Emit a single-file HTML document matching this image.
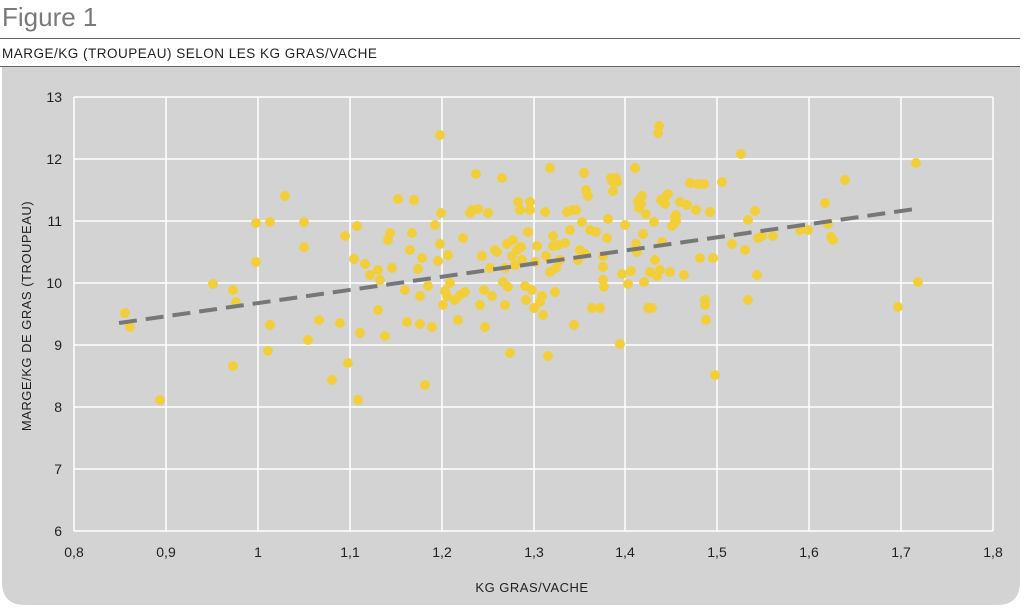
<!DOCTYPE html>
<html><head><meta charset="utf-8"><style>
body{margin:0;background:#fff;width:1024px;height:608px;overflow:hidden;font-family:"Liberation Sans",sans-serif;}
</style></head><body>
<svg width="1024" height="608" xmlns="http://www.w3.org/2000/svg">
<text x="2" y="26" font-family="Liberation Sans, sans-serif" font-size="26" fill="#7a7a7a">Figure 1</text>
<line x1="0" y1="38.5" x2="1020" y2="38.5" stroke="#666" stroke-width="1"/>
<text x="2" y="58" font-family="Liberation Sans, sans-serif" font-size="13.5" fill="#222" letter-spacing="0.5">MARGE/KG (TROUPEAU) SELON LES KG GRAS/VACHE</text>
<line x1="0" y1="66.5" x2="1020" y2="66.5" stroke="#666" stroke-width="1"/>
<path d="M2,67 H1020 V582 Q1020,605 997,605 H25 Q2,605 2,582 Z" fill="#d3d3d3"/>
<g stroke="#fff" stroke-width="1.5">
<line x1="74" y1="97" x2="993" y2="97"/><line x1="74" y1="159" x2="993" y2="159"/><line x1="74" y1="221" x2="993" y2="221"/><line x1="74" y1="283" x2="993" y2="283"/><line x1="74" y1="345" x2="993" y2="345"/><line x1="74" y1="407" x2="993" y2="407"/><line x1="74" y1="469" x2="993" y2="469"/><line x1="74" y1="531" x2="993" y2="531"/>
<line x1="74" y1="97" x2="74" y2="531"/><line x1="166" y1="97" x2="166" y2="531"/><line x1="258" y1="97" x2="258" y2="531"/><line x1="350" y1="97" x2="350" y2="531"/><line x1="442" y1="97" x2="442" y2="531"/><line x1="534" y1="97" x2="534" y2="531"/><line x1="625" y1="97" x2="625" y2="531"/><line x1="717" y1="97" x2="717" y2="531"/><line x1="809" y1="97" x2="809" y2="531"/><line x1="901" y1="97" x2="901" y2="531"/><line x1="993" y1="97" x2="993" y2="531"/>
</g>
<g font-family="Liberation Sans, sans-serif" font-size="14" fill="#222" text-anchor="end">
<text x="62" y="102">13</text><text x="62" y="164">12</text><text x="62" y="226">11</text><text x="62" y="288">10</text><text x="62" y="350">9</text><text x="62" y="412">8</text><text x="62" y="474">7</text><text x="62" y="536">6</text>
</g>
<g font-family="Liberation Sans, sans-serif" font-size="14" fill="#222" text-anchor="middle">
<text x="74" y="557">0,8</text><text x="166" y="557">0,9</text><text x="258" y="557">1</text><text x="350" y="557">1,1</text><text x="442" y="557">1,2</text><text x="534" y="557">1,3</text><text x="625" y="557">1,4</text><text x="717" y="557">1,5</text><text x="809" y="557">1,6</text><text x="901" y="557">1,7</text><text x="993" y="557">1,8</text>
</g>
<text x="532" y="592" font-family="Liberation Sans, sans-serif" font-size="13" fill="#222" text-anchor="middle" letter-spacing="0.5">KG GRAS/VACHE</text>
<text transform="translate(31,316) rotate(-90)" font-family="Liberation Sans, sans-serif" font-size="13" fill="#222" text-anchor="middle" letter-spacing="0.5">MARGE/KG DE GRAS (TROUPEAU)</text>
<g fill="#f2cf3a" id="pts"></g>
<line x1="119" y1="323" x2="915" y2="209" stroke="#777" stroke-width="4" stroke-dasharray="18 9"/>
</svg>
<script>
var p=[[125,313],[130,327],[160,400],[213,284],[233,290],[236,302],[233,366],[256,223],[256,262],[270,222],[270,325],[268,351],[285,196],[304,222],[304,247],[308,340],[319,320],[332,380],[340,323],[345,236],[348,363],[354,259],[358,400],[357,226],[360,333],[365,264],[370,275],[378,270],[378,310],[380,280],[385,336],[388,240],[390,233],[392,268],[398,199],[405,290],[407,322],[410,250],[412,233],[414,200],[418,269],[420,324],[420,296],[422,258],[425,385],[428,286],[432,327],[435,225],[438,261],[440,135],[441,213],[440,244],[443,305],[445,291],[447,296],[448,255],[450,283],[455,300],[458,320],[460,295],[463,238],[465,292],[470,213],[472,210],[476,174],[478,209],[480,305],[482,256],[484,290],[485,327],[488,213],[490,268],[492,296],[495,250],[497,252],[502,178],[503,282],[505,268],[505,305],[507,244],[508,287],[510,353],[512,256],[513,240],[515,265],[517,250],[518,202],[520,210],[521,247],[522,260],[525,286],[526,300],[528,232],[530,210],[530,202],[532,290],[534,308],[535,262],[537,246],[540,302],[542,296],[543,315],[545,212],[546,256],[548,356],[550,272],[550,168],[553,236],[553,246],[555,292],[556,268],[558,245],[560,260],[565,243],[567,212],[570,230],[572,210],[574,325],[576,210],[578,260],[580,250],[582,222],[584,173],[585,254],[586,190],[588,196],[590,230],[592,308],[596,232],[600,308],[603,256],[603,267],[603,280],[604,287],[607,238],[608,219],[611,178],[612,181],[613,191],[616,178],[617,182],[620,344],[622,274],[625,225],[628,284],[631,271],[635,168],[636,244],[637,252],[638,201],[639,208],[641,204],[642,196],[643,234],[644,282],[646,214],[648,308],[650,272],[652,308],[654,222],[655,260],[657,276],[658,133],[659,126],[660,270],[661,200],[662,242],[665,204],[666,196],[668,194],[670,272],[672,226],[674,224],[675,218],[676,221],[676,215],[680,202],[684,275],[687,205],[690,183],[696,210],[698,184],[700,258],[704,184],[705,300],[705,305],[706,320],[710,212],[713,258],[715,375],[722,182],[732,244],[741,154],[745,250],[748,300],[748,220],[755,211],[757,275],[758,238],[762,236],[773,236],[800,230],[808,230],[825,203],[828,224],[831,237],[833,240],[845,180],[898,307],[916,163],[918,282]];
var g=document.getElementById('pts'),s='';
p.forEach(function(a){s+='<circle cx="'+a[0]+'" cy="'+a[1]+'" r="5"/>';});
g.innerHTML=s;
</script>
</body></html>
